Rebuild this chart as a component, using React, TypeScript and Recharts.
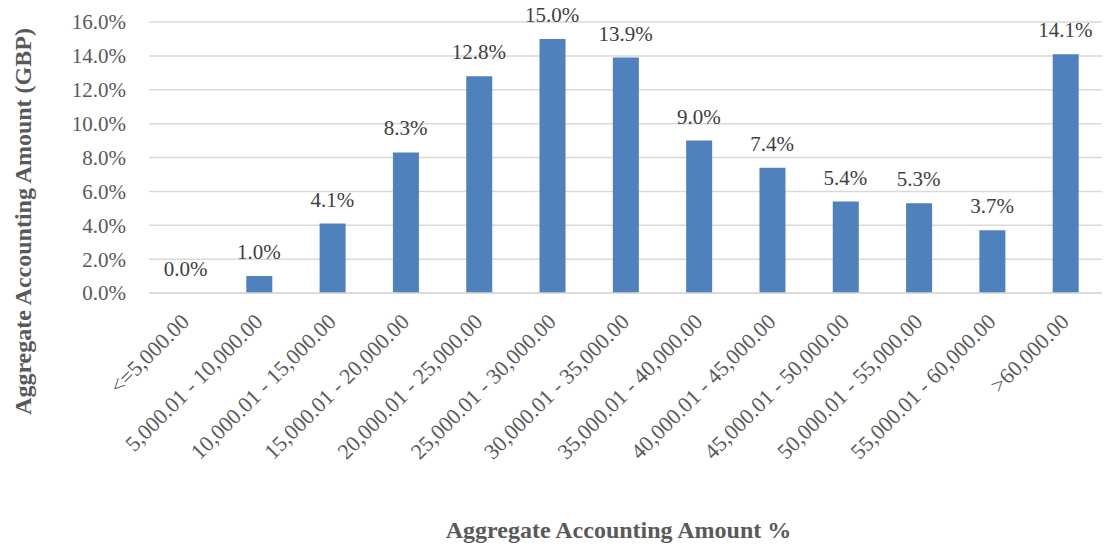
import React from "react";
import {
  ComposedChart,
  Bar,
  Line,
  XAxis,
  YAxis,
  CartesianGrid,
  LabelList,
  Label,
} from "recharts";

const ranges = [
  "<=5,000.00",
  "5,000.01 - 10,000.00",
  "10,000.01 - 15,000.00",
  "15,000.01 - 20,000.00",
  "20,000.01 - 25,000.00",
  "25,000.01 - 30,000.00",
  "30,000.01 - 35,000.00",
  "35,000.01 - 40,000.00",
  "40,000.01 - 45,000.00",
  "45,000.01 - 50,000.00",
  "50,000.01 - 55,000.00",
  "55,000.01 - 60,000.00",
  ">60,000.00",
];

const shares = [0.0, 1.0, 4.1, 8.3, 12.8, 15.0, 13.9, 9.0, 7.4, 5.4, 5.3, 3.7, 14.1];

const yTicks = [0, 2, 4, 6, 8, 10, 12, 14, 16];

const data = ranges.map((range, i) => ({ range, share: shares[i] }));

const FONT = "Liberation Serif, Tinos, DejaVu Serif, Times New Roman, serif";
const TICK_GRAY = "#595959";
const LABEL_GRAY = "#404040";
const GRID = "#d9d9d9";
const BAR_BLUE = "#4f81bd";

const pct = (v: number) => `${Number(v).toFixed(1)}%`;

function RangeTick({ x, y, payload }: any) {
  const ax = x + 5;
  const ay = y + 30;
  return (
    <text
      x={ax}
      y={ay}
      transform={`rotate(-45 ${ax} ${ay})`}
      textAnchor="end"
      fill={TICK_GRAY}
      fontSize={22}
      style={{ fontFamily: FONT }}
    >
      {payload.value}
    </text>
  );
}

function XTitle({ viewBox }: any) {
  const { x, y, width, height } = viewBox;
  return (
    <text
      x={x + width / 2 - 7}
      y={y + height - 7}
      textAnchor="middle"
      fill={TICK_GRAY}
      fontSize={24}
      fontWeight="bold"
      style={{ fontFamily: FONT }}
    >
      Aggregate Accounting Amount %
    </text>
  );
}

function YTitle({ viewBox }: any) {
  const { y, height } = viewBox;
  const cx = 31;
  const cy = y + height / 2 + 64;
  return (
    <text
      x={cx}
      y={cy}
      transform={`rotate(-90 ${cx} ${cy})`}
      textAnchor="middle"
      fill={TICK_GRAY}
      fontSize={24}
      fontWeight="bold"
      style={{ fontFamily: FONT }}
    >
      Aggregate Accounting Amount (GBP)
    </text>
  );
}

export default function App() {
  return (
    <div style={{ position: "absolute", left: 0, top: 0, background: "#fff", fontFamily: FONT }}>
      <ComposedChart
        width={1104}
        height={545}
        data={data}
        margin={{ top: 22, right: 2, bottom: 0, left: 0 }}
        style={{ fontFamily: FONT }}
      >
        <CartesianGrid vertical={false} stroke={GRID} strokeWidth={1.5} />
        <XAxis
          dataKey="range"
          height={252}
          interval={0}
          tickLine={false}
          tickSize={0}
          tickMargin={0}
          axisLine={{ stroke: GRID, strokeWidth: 1.5 }}
          tick={<RangeTick />}
        >
          <Label content={<XTitle />} />
        </XAxis>
        <YAxis
          width={149}
          domain={[0, 16]}
          ticks={yTicks}
          tickFormatter={pct}
          axisLine={false}
          tickLine={false}
          tickSize={0}
          tickMargin={23}
          tick={{ fill: TICK_GRAY, fontSize: 21, style: { fontFamily: FONT } }}
        >
          <Label content={<YTitle />} />
        </YAxis>
        <Bar dataKey="share" fill={BAR_BLUE} barSize={26} isAnimationActive={false} />
        <Line
          dataKey="share"
          stroke="none"
          dot={false}
          activeDot={false}
          legendType="none"
          isAnimationActive={false}
        >
          <LabelList
            dataKey="share"
            position="top"
            offset={17}
            formatter={pct}
            fill={LABEL_GRAY}
            fontSize={21}
            style={{ fontFamily: FONT }}
          />
        </Line>
      </ComposedChart>
    </div>
  );
}
